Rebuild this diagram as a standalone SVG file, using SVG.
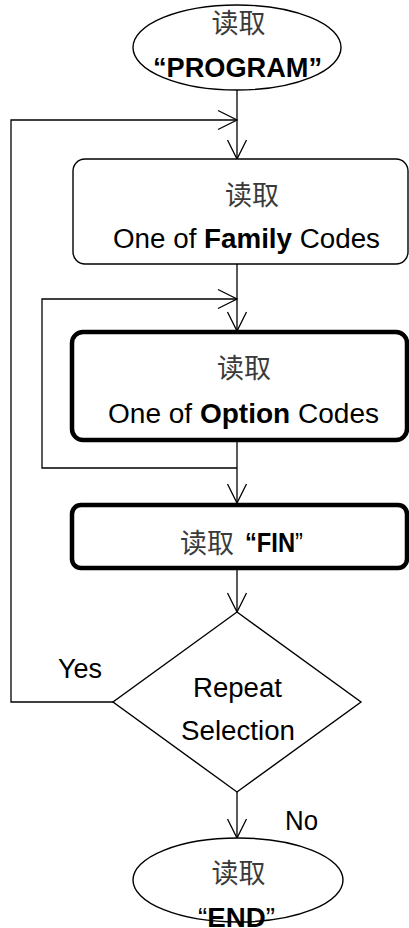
<svg xmlns="http://www.w3.org/2000/svg" width="409" height="928" viewBox="0 0 409 928">
  <style>
    .shape { fill: #fff; stroke: #000; }
    .thin { stroke-width: 1.4; }
    .thick { stroke-width: 4.5; }
    .link { fill: none; stroke: #000; stroke-width: 1.3; }
    .lat { font-family: "Liberation Sans", Arial, sans-serif; font-size: 27px; fill: #000; }
    .cjk { font-family: "Noto Sans CJK SC", sans-serif; font-size: 27px; fill: #3a3a3a; text-anchor: middle; }
    .b { font-weight: bold; }
  </style>
  <defs>
    <marker id="arr" markerUnits="userSpaceOnUse" markerWidth="24" markerHeight="24" viewBox="-21 -12 24 24" refX="0" refY="0" orient="auto">
      <path d="M-19,-9.5 L0,0 L-19,9.5" fill="none" stroke="#000" stroke-width="1.3"/>
    </marker>
  </defs>
  <rect width="409" height="928" fill="#fff"/>

  <!-- connectors -->
  <g id="connectors">
    <path class="link" d="M237,90 V159" marker-end="url(#arr)"/>
    <path class="link" d="M113,702 H11 V120 H237" marker-end="url(#arr)"/>
    <path class="link" d="M237,264 V331" marker-end="url(#arr)"/>
    <path class="link" d="M237,468 H42 V299 H237" marker-end="url(#arr)"/>
    <path class="link" d="M237,441 V503" marker-end="url(#arr)"/>
    <path class="link" d="M237,570 V612" marker-end="url(#arr)"/>
    <path class="link" d="M237,792 V838" marker-end="url(#arr)"/>
  </g>

  <!-- start terminal -->
  <g id="start">
    <ellipse class="shape thin" cx="237" cy="47.5" rx="104" ry="42.5"/>
    <text class="cjk" x="238.5" y="33">读取</text>
    <text class="lat b" x="153" y="77" textLength="169" lengthAdjust="spacingAndGlyphs">“PROGRAM”</text>
  </g>

  <!-- family code step -->
  <g id="family">
    <rect class="shape thin" x="73" y="159" width="335" height="105" rx="12"/>
    <text class="cjk" x="252" y="205">读取</text>
    <text class="lat" x="113" y="248" textLength="267" lengthAdjust="spacingAndGlyphs">One of <tspan class="b">Family</tspan> Codes</text>
  </g>

  <!-- option code step -->
  <g id="option">
    <rect class="shape thick" x="72" y="332" width="335" height="108" rx="11"/>
    <text class="cjk" x="244" y="378">读取</text>
    <text class="lat" x="108" y="423" textLength="271" lengthAdjust="spacingAndGlyphs">One of <tspan class="b">Option</tspan> Codes</text>
  </g>

  <!-- FIN step -->
  <g id="fin">
    <rect class="shape thick" x="72" y="505" width="335" height="63" rx="9"/>
    <text class="cjk" x="207" y="553">读取</text>
    <text class="lat" x="245" y="552" textLength="58" lengthAdjust="spacingAndGlyphs"><tspan class="b">“FIN</tspan>”</text>
  </g>

  <!-- decision -->
  <g id="repeat">
    <polygon class="shape thin" points="237,612 361,702 237,792 113,702"/>
    <text class="lat" x="193" y="697" textLength="89" lengthAdjust="spacingAndGlyphs">Repeat</text>
    <text class="lat" x="181" y="740" textLength="114" lengthAdjust="spacingAndGlyphs">Selection</text>
  </g>
  <text class="lat" x="58" y="678" textLength="44" lengthAdjust="spacingAndGlyphs">Yes</text>
  <text class="lat" x="285" y="830" textLength="33" lengthAdjust="spacingAndGlyphs">No</text>

  <!-- end terminal -->
  <g id="end">
    <ellipse class="shape thin" cx="238" cy="880" rx="105" ry="42"/>
    <text class="cjk" x="238.5" y="883">读取</text>
    <text class="lat" x="198" y="927" textLength="77" lengthAdjust="spacingAndGlyphs">“<tspan class="b">END</tspan>”</text>
  </g>
</svg>
